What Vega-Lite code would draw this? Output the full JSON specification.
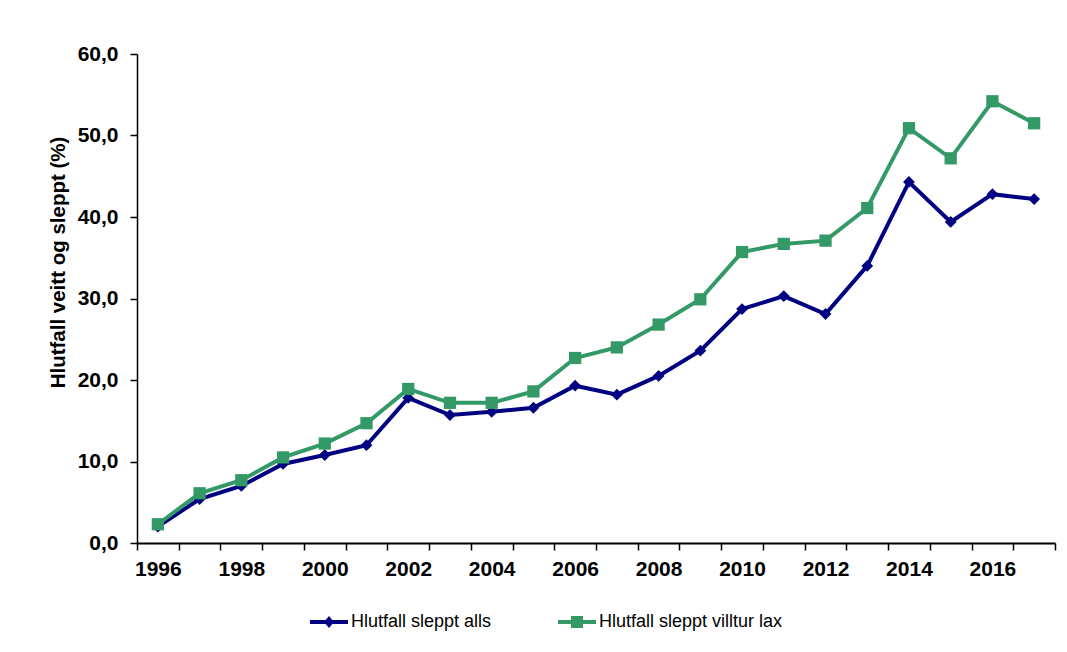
{
  "$schema": "https://vega.github.io/schema/vega-lite/v6.json",
  "width": 918,
  "height": 489,
  "autosize": {"type": "none"},
  "padding": {"left": 137, "top": 54, "right": 12, "bottom": 109},
  "background": "white",
  "config": {"view": {"stroke": null}, "font": "Liberation Sans"},
  "data": {
    "values": [
      {"year": 1996, "series": "Hlutfall sleppt alls", "value": 2.0},
      {"year": 1997, "series": "Hlutfall sleppt alls", "value": 5.4},
      {"year": 1998, "series": "Hlutfall sleppt alls", "value": 7.0},
      {"year": 1999, "series": "Hlutfall sleppt alls", "value": 9.7},
      {"year": 2000, "series": "Hlutfall sleppt alls", "value": 10.8},
      {"year": 2001, "series": "Hlutfall sleppt alls", "value": 12.0},
      {"year": 2002, "series": "Hlutfall sleppt alls", "value": 17.8},
      {"year": 2003, "series": "Hlutfall sleppt alls", "value": 15.7},
      {"year": 2004, "series": "Hlutfall sleppt alls", "value": 16.1},
      {"year": 2005, "series": "Hlutfall sleppt alls", "value": 16.6},
      {"year": 2006, "series": "Hlutfall sleppt alls", "value": 19.3},
      {"year": 2007, "series": "Hlutfall sleppt alls", "value": 18.2},
      {"year": 2008, "series": "Hlutfall sleppt alls", "value": 20.5},
      {"year": 2009, "series": "Hlutfall sleppt alls", "value": 23.6},
      {"year": 2010, "series": "Hlutfall sleppt alls", "value": 28.7},
      {"year": 2011, "series": "Hlutfall sleppt alls", "value": 30.3},
      {"year": 2012, "series": "Hlutfall sleppt alls", "value": 28.1},
      {"year": 2013, "series": "Hlutfall sleppt alls", "value": 34.0},
      {"year": 2014, "series": "Hlutfall sleppt alls", "value": 44.3},
      {"year": 2015, "series": "Hlutfall sleppt alls", "value": 39.4},
      {"year": 2016, "series": "Hlutfall sleppt alls", "value": 42.8},
      {"year": 2017, "series": "Hlutfall sleppt alls", "value": 42.2},
      {"year": 1996, "series": "Hlutfall sleppt villtur lax", "value": 2.3},
      {"year": 1997, "series": "Hlutfall sleppt villtur lax", "value": 6.1},
      {"year": 1998, "series": "Hlutfall sleppt villtur lax", "value": 7.7},
      {"year": 1999, "series": "Hlutfall sleppt villtur lax", "value": 10.5},
      {"year": 2000, "series": "Hlutfall sleppt villtur lax", "value": 12.2},
      {"year": 2001, "series": "Hlutfall sleppt villtur lax", "value": 14.7},
      {"year": 2002, "series": "Hlutfall sleppt villtur lax", "value": 18.9},
      {"year": 2003, "series": "Hlutfall sleppt villtur lax", "value": 17.2},
      {"year": 2004, "series": "Hlutfall sleppt villtur lax", "value": 17.2},
      {"year": 2005, "series": "Hlutfall sleppt villtur lax", "value": 18.6},
      {"year": 2006, "series": "Hlutfall sleppt villtur lax", "value": 22.7},
      {"year": 2007, "series": "Hlutfall sleppt villtur lax", "value": 24.0},
      {"year": 2008, "series": "Hlutfall sleppt villtur lax", "value": 26.8},
      {"year": 2009, "series": "Hlutfall sleppt villtur lax", "value": 29.9},
      {"year": 2010, "series": "Hlutfall sleppt villtur lax", "value": 35.7},
      {"year": 2011, "series": "Hlutfall sleppt villtur lax", "value": 36.7},
      {"year": 2012, "series": "Hlutfall sleppt villtur lax", "value": 37.1},
      {"year": 2013, "series": "Hlutfall sleppt villtur lax", "value": 41.1},
      {"year": 2014, "series": "Hlutfall sleppt villtur lax", "value": 50.9},
      {"year": 2015, "series": "Hlutfall sleppt villtur lax", "value": 47.2},
      {"year": 2016, "series": "Hlutfall sleppt villtur lax", "value": 54.2},
      {"year": 2017, "series": "Hlutfall sleppt villtur lax", "value": 51.5}
    ]
  },
  "encoding": {
    "x": {
      "field": "year",
      "type": "ordinal",
      "bandPosition": 0.5,
      "scale": {"type": "band", "paddingInner": 0, "paddingOuter": 0},
      "axis": {
        "title": null,
        "tickBand": "extent",
        "labelExpr": "datum.value % 2 == 0 ? datum.label : ''",
        "labelAngle": 0,
        "labelFontSize": 21,
        "labelFontWeight": "bold",
        "labelColor": "black",
        "labelPadding": 8,
        "tickSize": 7,
        "tickColor": "black",
        "domainColor": "black",
        "domainWidth": 2,
        "tickWidth": 1.5,
        "grid": false
      }
    },
    "y": {
      "field": "value",
      "type": "quantitative",
      "scale": {"domain": [0, 60], "nice": false},
      "axis": {
        "title": "Hlutfall veitt og sleppt (%)",
        "titleFontSize": 20.5,
        "titleFontWeight": "bold",
        "titleColor": "black",
        "titlePadding": 9,
        "titleY": 208,
        "values": [0, 10, 20, 30, 40, 50, 60],
        "labelExpr": "replace(format(datum.value, '.1f'), '.', ',')",
        "labelFontSize": 21,
        "labelFontWeight": "bold",
        "labelColor": "black",
        "labelPadding": 12,
        "tickSize": 7,
        "tickColor": "black",
        "tickWidth": 1.5,
        "domainColor": "black",
        "domainWidth": 1.5,
        "grid": false
      }
    },
    "color": {
      "field": "series",
      "type": "nominal",
      "scale": {
        "domain": ["Hlutfall sleppt alls", "Hlutfall sleppt villtur lax"],
        "range": ["#000080", "#339966"]
      },
      "legend": {
        "title": null,
        "orient": "none",
        "legendX": 173,
        "legendY": 549,
        "direction": "horizontal",
        "columnPadding": 66,
        "symbolSize": 1444,
        "labelFontSize": 18,
        "labelColor": "black",
        "labelLimit": 400,
        "labelOffset": 3,
        "symbolStrokeWidth": 0,
        "encode": {
          "symbols": {
            "update": {
              "shape": {"signal": "datum.value == 'Hlutfall sleppt alls' ? 'M-1,-0.105L1,-0.105L1,0.105L-1,0.105Z M0,-0.32L0.26,0L0,0.32L-0.26,0Z' : 'M-1,-0.105L1,-0.105L1,0.105L-1,0.105Z M-0.32,-0.32L0.32,-0.32L0.32,0.32L-0.32,0.32Z'"},
              "fill": {"signal": "datum.value == 'Hlutfall sleppt alls' ? '#000080' : '#339966'"},
              "fillOpacity": {"value": 1},
              "size": {"value": 1444},
              "strokeWidth": {"value": 0}
            }
          }
        }
      }
    }
  },
  "layer": [
    {"mark": {"type": "line", "strokeWidth": 4}},
    {
      "transform": [{"filter": "datum.series == 'Hlutfall sleppt alls'"}],
      "mark": {"type": "point", "filled": true, "opacity": 1, "shape": "diamond", "size": 140}
    },
    {
      "transform": [{"filter": "datum.series == 'Hlutfall sleppt villtur lax'"}],
      "mark": {"type": "point", "filled": true, "opacity": 1, "shape": "square", "size": 150}
    }
  ]
}
